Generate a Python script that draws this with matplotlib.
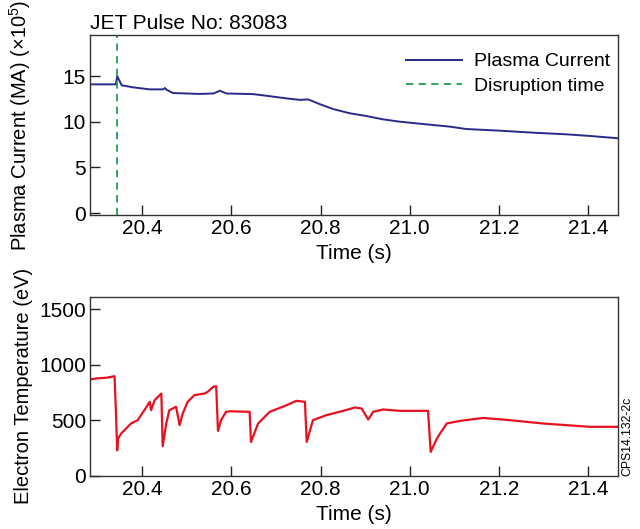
import numpy as np
import matplotlib
matplotlib.use('Agg')
from matplotlib import pyplot as plt

plt.rcParams['font.family'] = ['Liberation Sans', 'DejaVu Sans']
plt.rcParams['mathtext.fontset'] = 'custom'
plt.rcParams['mathtext.rm'] = 'Liberation Sans'
plt.rcParams['mathtext.default'] = 'regular'

# plasma current (x10^5 MA)
ip_t = [20.283, 20.341, 20.344, 20.354, 20.380, 20.417, 20.447, 20.451, 20.455, 20.469,
        20.529, 20.560, 20.574, 20.589, 20.649, 20.679, 20.724, 20.754, 20.772, 20.780,
        20.798, 20.828, 20.866, 20.903, 20.940, 20.978, 21.015, 21.052, 21.090, 21.127,
        21.202, 21.277, 21.351, 21.404, 21.467]
ip_v = [14.1, 14.1, 15.0, 14.0, 13.77, 13.55, 13.55, 13.7, 13.5, 13.15,
        13.05, 13.1, 13.4, 13.1, 13.03, 12.85, 12.56, 12.4, 12.45, 12.3,
        11.94, 11.4, 10.93, 10.63, 10.27, 10.01, 9.83, 9.65, 9.47, 9.21,
        9.03, 8.81, 8.63, 8.45, 8.2]

t_disrupt = 20.343

# electron temperature (eV)
te_t = [20.283, 20.300, 20.320, 20.338, 20.341, 20.344, 20.346, 20.353, 20.375, 20.390,
        20.405, 20.417, 20.420, 20.428, 20.443, 20.446, 20.454, 20.461, 20.476, 20.484,
        20.491, 20.502, 20.517, 20.540, 20.547, 20.559, 20.566, 20.570, 20.577, 20.588,
        20.599, 20.641, 20.644, 20.660, 20.686, 20.724, 20.746, 20.765, 20.769, 20.783,
        20.813, 20.851, 20.877, 20.892, 20.907, 20.918, 20.940, 20.978, 21.041, 21.047,
        21.060, 21.068, 21.083, 21.112, 21.165, 21.224, 21.299, 21.404, 21.467]
te_v = [870, 880, 885, 899, 600, 232, 338, 383, 473, 503,
        593, 668, 593, 683, 743, 268, 473, 593, 623, 458,
        563, 668, 728, 743, 758, 803, 809, 406, 503, 578,
        583, 578, 307, 473, 578, 638, 677, 668, 307, 503,
        548, 587, 617, 608, 509, 578, 599, 587, 587, 217,
        330, 383, 473, 496, 523, 503, 473, 443, 443]

fig = plt.figure(figsize=(6.4, 5.29), dpi=100)
ax1 = fig.add_axes([0.1406, 0.5936, 0.8250, 0.3402])
ax2 = fig.add_axes([0.1406, 0.1002, 0.8250, 0.3389])

ax1.plot(ip_t, ip_v, color='#2a2a8a', lw=1.4, label='Plasma Current')
ax1.axvline(t_disrupt, color='#1f9e55', lw=1.3, ls=(0, (4, 3)), label='Disruption time')
ax1.set_xlim(20.283, 21.467)
ax1.set_ylim(-0.2, 19.5)
ax1.set_yticks([0, 5, 10, 15])
ax1.set_xticks([20.4, 20.6, 20.8, 21.0, 21.2, 21.4])
ax1.set_xlabel('Time (s)', fontsize=15, labelpad=4)
ax1.set_ylabel('Plasma Current (MA) (×10$^5$)', fontsize=14.5)
ax1.set_title('JET Pulse No: 83083', fontsize=15, loc='left', x=0.0, pad=4)
ax1.legend(loc='upper right', bbox_to_anchor=(1.0, 0.945), frameon=False, fontsize=14,
           handlelength=2.9, handletextpad=0.6, labelspacing=0.35, borderaxespad=0)

ax2.plot(te_t, te_v, color='#e8101c', lw=1.6)
ax2.set_xlim(20.283, 21.467)
ax2.set_ylim(0, 1615)
ax2.set_yticks([0, 500, 1000, 1500])
ax2.set_xticks([20.4, 20.6, 20.8, 21.0, 21.2, 21.4])
ax2.set_xlabel('Time (s)', fontsize=15, labelpad=4)
ax2.set_ylabel('Electron Temperature (eV)', fontsize=14.5)

for ax in (ax1, ax2):
    ax.tick_params(direction='in', length=7, width=1, labelsize=15, pad=3,
                   top=False, right=False, colors='#222222', labelcolor='black')
    for s in ax.spines.values():
        s.set_color('#333333')
        s.set_linewidth(1)
    ax.xaxis.set_major_formatter(matplotlib.ticker.FormatStrFormatter('%.1f'))
    ax.yaxis.set_label_coords(-0.108, 0.5)

fig.text(0.980, 0.176, 'CPS14.132-2c', rotation=90, fontsize=8.8, ha='center', va='center')

plt.savefig('out.png', dpi=100)
